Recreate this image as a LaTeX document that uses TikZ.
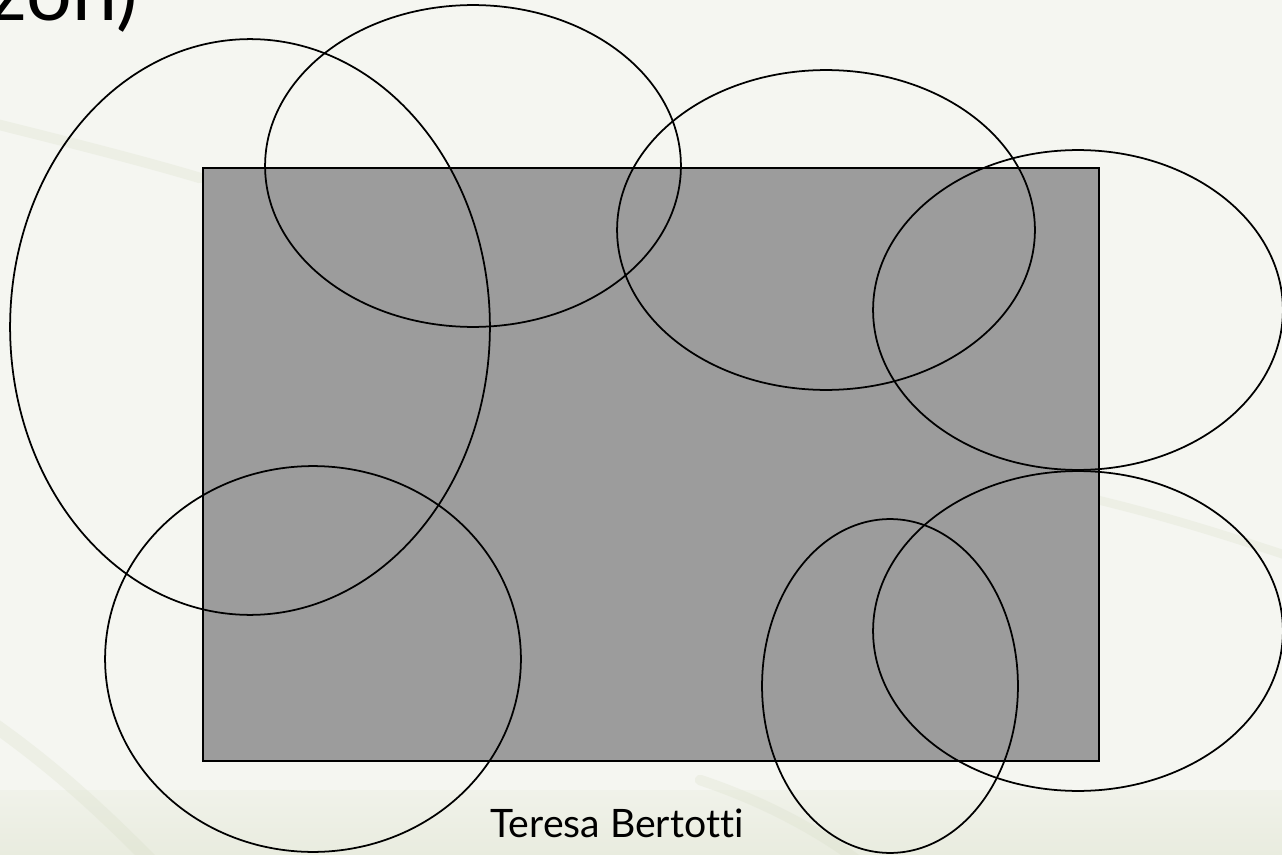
\documentclass[tikz,border=0pt]{standalone}
\usepackage{fontspec}
\setmainfont[Ligatures=NoCommon]{Lato}
\usepackage{xcolor}
\usepackage{tikz}
\usetikzlibrary{shapes.geometric}
\definecolor{fondo}{RGB}{245,246,241}
\definecolor{fascia}{RGB}{233,236,223}
\definecolor{scia}{RGB}{214,220,196}
\definecolor{campo}{RGB}{156,156,156}

\begin{document}
\begin{tikzpicture}[x=0.02cm, y=-0.02cm,
    zona/.style={ellipse, draw=black, line width=1pt, inner sep=0pt},
    striscia/.style={scia, line cap=round, opacity=0.25}]
  \useasboundingbox (0,0) rectangle (1282,855);
  \clip (0,0) rectangle (1282,855);
  % sfondo della slide
  \fill[fondo] (0,0) rectangle (1282,855);
  \shade[top color=fondo!60!fascia, bottom color=fascia] (0,790) rectangle (1282,855);
  \draw[striscia, line width=8pt] (-20,715) .. controls (60,770) and (110,820) .. (160,870);
  \draw[striscia, line width=5pt] (1098,500) .. controls (1180,520) and (1240,540) .. (1300,560);
  \draw[striscia, line width=6pt] (-20,120) .. controls (60,140) and (140,160) .. (200,178);
  \draw[striscia, line width=6pt] (700,780) .. controls (760,800) and (820,830) .. (870,870);
  % campo
  \node[draw=black, line width=1.2pt, fill=campo, inner sep=0pt, anchor=north west,
        minimum width=896*0.02cm, minimum height=593*0.02cm] (campo) at (202,167) {};
  % zone
  \foreach \i/\x/\y/\w/\h in {1/250/327/240/288, 2/473/166/208/161, 3/826/230/209/160,
      4/1078/310/205/160, 5/1078/631/205/160, 6/890/686/128/167, 7/313/659/208/193} {
    \node[zona, minimum width=\w*0.04cm, minimum height=\h*0.04cm] (z\i) at (\x,\y) {};
  }
  % testi
  \node[anchor=base east, inner sep=0pt, font=\fontsize{46}{50}\selectfont] (titolo) at (138,21) {zon)};
  \node[anchor=base, inner sep=0pt, font=\fontsize{22.3}{26}\selectfont] (autore) at (617,837) {Teresa Bertotti};
\end{tikzpicture}
\end{document}
